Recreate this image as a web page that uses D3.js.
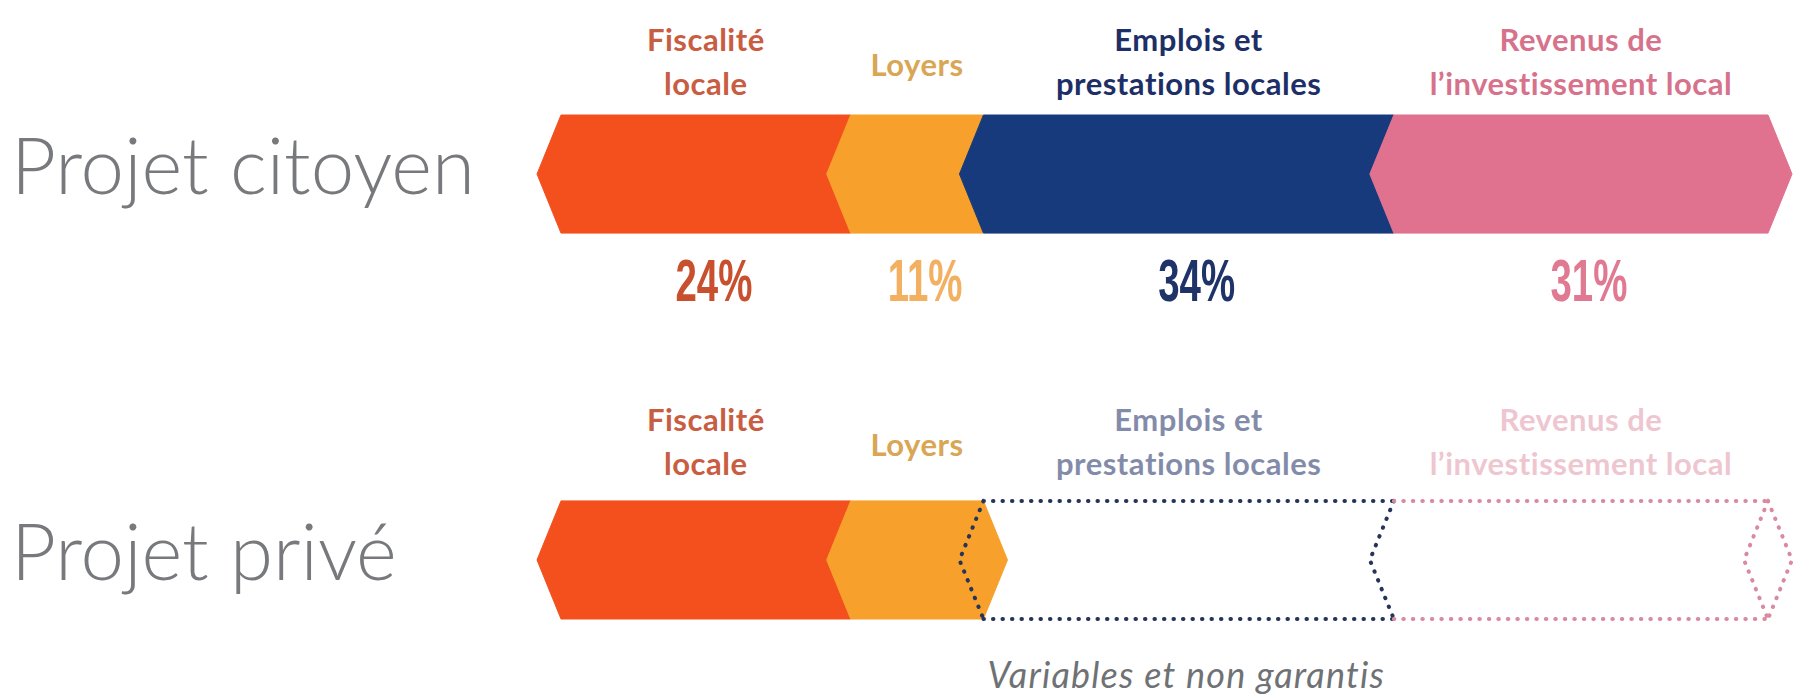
<!DOCTYPE html>
<html>
<head>
<meta charset="utf-8">
<script src="https://cdn.jsdelivr.net/npm/d3@7"></script>
<style>
  body { margin: 0; background: #fff; }
  svg { display: block; }
</style>
</head>
<body>
<svg id="chart"></svg>
<script>
(function() {

const rows = ["Projet citoyen", "Projet privé"];
const categories = ["Fiscalité locale", "Loyers", "Emplois et prestations locales", "Revenus de l’investissement local"];
const labelLines = [["Fiscalité", "locale"], ["Loyers"], ["Emplois et", "prestations locales"], ["Revenus de", "l’investissement local"]];
const shares = [24, 11, 34, 31];
const guaranteedPrive = [true, true, false, false];
const note = "Variables et non garantis";

const fillColors = ["#f4501e", "#f7a02b", "#173a7c", "#e0718f"];
const dotColors = ["#f4501e", "#f7a02b", "#26345a", "#d98aa0"];
const labelColors = ["#c95d42", "#d9a654", "#1d2f66", "#d7728c"];
const pctColors = ["#c8502e", "#f2b060", "#1e3468", "#e07a93"];
const grey = "#77797c";

const W = 1794, H = 697;
const tip = 24;

const svg = d3.select("#chart")
    .attr("width", W)
    .attr("height", H);

const x = d3.scaleLinear().domain([0, 100]).range([561, 1768]);
const y = d3.scaleBand().domain(rows).range([115, 619]).paddingInner(0.694);

const starts = shares.map((d, i) => d3.sum(shares.slice(0, i)));

const segs = [];
rows.forEach((r, ri) => {
    categories.forEach((c, i) => {
        segs.push({
            row: r, ri: ri, i: i, cat: c,
            share: shares[i],
            start: starts[i],
            solid: ri === 0 || guaranteedPrive[i]
        });
    });
});

function isLastSolid(d) {
    const rowSegs = segs.filter(s => s.row === d.row && s.solid);
    return rowSegs[rowSegs.length - 1] === d;
}

function solidPath(d) {
    const x0 = x(d.start), x1 = x(d.start + d.share);
    const t = y(d.row), b = t + y.bandwidth(), m = (t + b) / 2;
    const right = isLastSolid(d) ? x1 + tip : x1 - tip;
    const p = d3.path();
    p.moveTo(x0, t);
    p.lineTo(x1, t);
    p.lineTo(right, m);
    p.lineTo(x1, b);
    p.lineTo(x0, b);
    p.lineTo(x0 - tip, m);
    p.closePath();
    return p.toString();
}

function dottedPath(d) {
    const x0 = x(d.start), x1 = x(d.start + d.share);
    const t = y(d.row), b = t + y.bandwidth(), m = (t + b) / 2;
    const prev = segs.find(s => s.row === d.row && s.i === d.i - 1);
    const last = d.i === categories.length - 1;
    const p = d3.path();
    p.moveTo(x0, t); p.lineTo(x1, t);
    p.moveTo(x0, b); p.lineTo(x1, b);
    // right chevron
    p.moveTo(x1, t); p.lineTo(x1 - tip, m); p.lineTo(x1, b);
    if (prev && prev.solid) {
        p.moveTo(x0, t); p.lineTo(x0 - tip, m); p.lineTo(x0, b);
    }
    if (last) {
        p.moveTo(x1, t); p.lineTo(x1 + tip, m); p.lineTo(x1, b);
    }
    return p.toString();
}

// solid bars
svg.append("g").selectAll("path")
    .data(segs.filter(d => d.solid))
    .enter().append("path")
    .attr("d", solidPath)
    .attr("fill", d => fillColors[d.i])
    .attr("stroke", d => fillColors[d.i])
    .attr("stroke-width", 1);

// dotted outlines for non guaranteed shares
svg.append("g").selectAll("path")
    .data(segs.filter(d => !d.solid))
    .enter().append("path")
    .attr("d", dottedPath)
    .attr("fill", "none")
    .attr("stroke", d => dotColors[d.i])
    .attr("stroke-width", 4)
    .attr("stroke-linecap", "round")
    .attr("stroke-dasharray", "0.5 9");

// category labels above each bar
const labels = svg.append("g").selectAll("text")
    .data(segs)
    .enter().append("text")
    .attr("x", d => x(d.start + d.share / 2))
    .attr("y", d => y(d.row) - (labelLines[d.i].length > 1 ? 70 : 45) + (d.ri === 0 ? 6 : 0))
    .attr("text-anchor", "middle")
    .attr("font-family", "Lato, 'Open Sans', sans-serif")
    .attr("font-weight", 700)
    .attr("font-size", "31px")
    .attr("letter-spacing", "0.5px")
    .attr("fill", d => labelColors[d.i])
    .attr("opacity", d => d.solid ? 1 : (d.i === 3 ? 0.4 : 0.55));

labels.selectAll("tspan")
    .data(d => labelLines[d.i].map(l => ({ text: l, x: x(d.start + d.share / 2) })))
    .enter().append("tspan")
    .attr("x", d => d.x)
    .attr("dy", (d, k) => k === 0 ? 0 : 44)
    .text(d => d.text);

// percentages under the first bar
svg.append("g").selectAll("text")
    .data(segs.filter(d => d.ri === 0))
    .enter().append("text")
    .attr("transform", d => `translate(${x(d.start + d.share / 2) + 8},${y(d.row) + y.bandwidth() + 68}) scale(0.64,1)`)
    .attr("text-anchor", "middle")
    .attr("font-family", "'Liberation Sans Narrow', 'Liberation Sans', sans-serif")
    .attr("font-weight", 700)
    .attr("font-size", "60px")
    .attr("fill", d => pctColors[d.i])
    .text(d => d.share + "%");

// row titles
svg.append("g").selectAll("text")
    .data(rows)
    .enter().append("text")
    .attr("x", 11)
    .attr("y", d => y(d) + y.bandwidth() / 2 + 20)
    .attr("font-family", "Lato, 'Open Sans', sans-serif")
    .attr("font-weight", 300)
    .attr("font-size", "78px")
    .attr("fill", grey)
    .text(d => d);

// note under the dotted part
const firstVar = guaranteedPrive.indexOf(false);
svg.append("text")
    .attr("x", x(starts[firstVar]) + 4)
    .attr("y", 688)
    .attr("font-family", "Lato, 'Open Sans', sans-serif")
    .attr("font-style", "italic")
    .attr("font-size", "36px")
    .attr("letter-spacing", "1.2px")
    .attr("fill", "#6f7275")
    .text(note);

})();
</script>
</body>
</html>
